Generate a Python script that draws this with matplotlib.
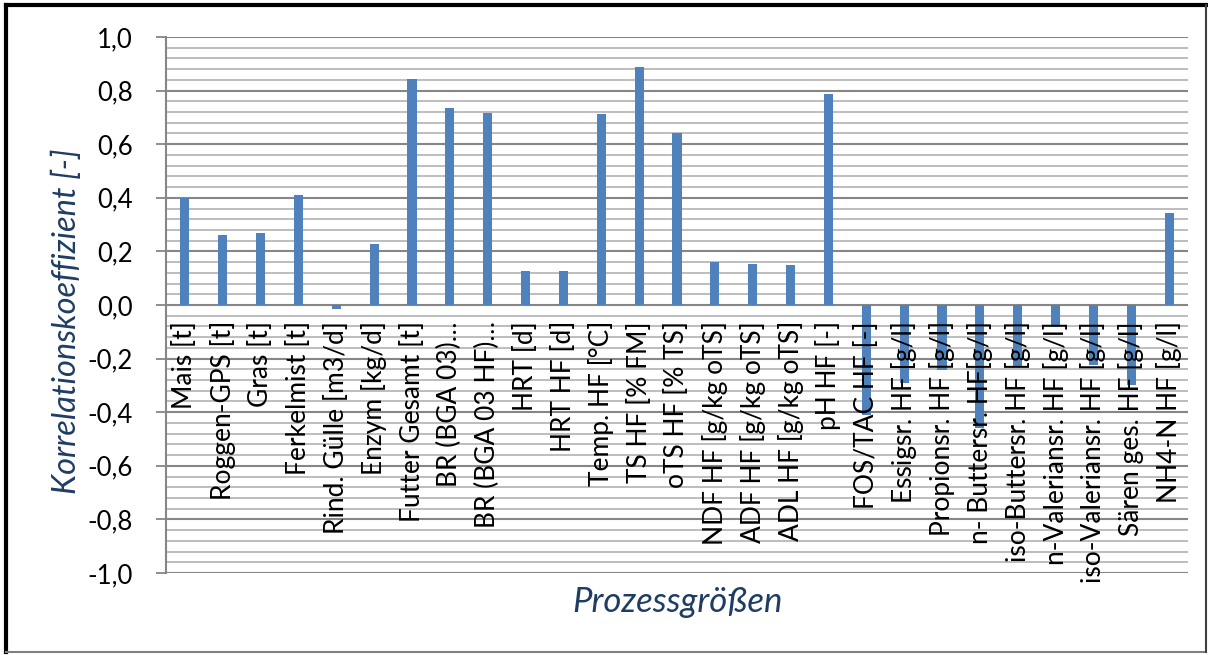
import numpy as np
import matplotlib.pyplot as plt
from matplotlib import transforms
from matplotlib.lines import Line2D

# Prozessgrößen und Korrelationskoeffizienten
categories = [
    'Mais [t]', 'Roggen-GPS [t]', 'Gras [t]', 'Ferkelmist [t]',
    'Rind. Gülle [m3/d]', 'Enzym [kg/d]', 'Futter Gesamt [t]',
    'BR (BGA 03)…', 'BR (BGA 03 HF)…', 'HRT [d]', 'HRT HF [d]',
    'Temp. HF [°C]', 'TS HF [% FM]', 'oTS HF [% TS]',
    'NDF HF [g/kg oTS]', 'ADF HF [g/kg oTS]', 'ADL HF [g/kg oTS]',
    'pH HF [-]', 'FOS/TAC HF [-]', 'Essigsr. HF [g/l]',
    'Propionsr. HF [g/l]', 'n- Buttersr. HF[g/l]', 'iso-Buttersr. HF [g/l]',
    'n-Valeriansr. HF [g/l]', 'iso-Valeriansr. HF [g/l]',
    'Sären ges. HF [g/l]', 'NH4-N HF [g/l]',
]
values = [
    0.40, 0.26, 0.267, 0.41, -0.015, 0.226, 0.843,
    0.736, 0.715, 0.126, 0.126, 0.714, 0.887, 0.64,
    0.162, 0.153, 0.150, 0.786, -0.41, -0.29,
    -0.243, -0.46, -0.23, -0.082, -0.224, -0.30, 0.343,
]
yticks = [-1.0, -0.8, -0.6, -0.4, -0.2, 0.0, 0.2, 0.4, 0.6, 0.8, 1.0]
ytick_labels = ['-1,0', '-0,8', '-0,6', '-0,4', '-0,2', '0,0',
                '0,2', '0,4', '0,6', '0,8', '1,0']

plt.rcParams['font.family'] = ['Lato', 'DejaVu Sans']

fig = plt.figure(figsize=(12.08, 6.55), dpi=100)
ax = fig.add_axes([166 / 1208, 1 - 573 / 655, 1022 / 1208, 536 / 655])

x = np.arange(len(categories))
ax.bar(x, values, width=0.24, color='#4F81BD', zorder=3)

# gridlines: minor every 0.04, major every 0.2
ax.set_ylim(-1.0, 1.0)
ax.set_xlim(-0.5, len(categories) - 0.5)
ax.set_yticks(yticks)
ax.set_yticklabels(ytick_labels, fontsize=18.5)
ax.set_yticks(np.arange(-1.0, 1.0001, 0.04), minor=True)
ax.grid(which='minor', axis='y', color='#B8B8B8', linewidth=1.3, zorder=1)
ax.grid(which='major', axis='y', color='#868686', linewidth=1.5, zorder=2)
ax.tick_params(axis='y', which='major', length=7, width=1.3, color='#868686', pad=17)
ax.tick_params(axis='y', which='minor', length=0)
ax.tick_params(axis='x', bottom=False, labelbottom=False)
for s in ['top', 'right', 'bottom']:
    ax.spines[s].set_visible(False)
ax.spines['left'].set_color('#868686')
ax.spines['left'].set_linewidth(1.5)

# category labels below the zero line
off = transforms.offset_copy(ax.transData, fig=fig, x=0, y=-16, units='dots')
for i, lab in enumerate(categories):
    ax.text(i, 0, lab, rotation=90, ha='center', va='top', fontsize=19,
            transform=off, zorder=5)

ax.set_ylabel('Korrelationskoeffizient [-]', fontsize=23.5, style='italic', color='#1F3D63')
ax.yaxis.set_label_coords(-0.082, 0.47)
ax.set_xlabel('Prozessgrößen', fontsize=25, style='italic', color='#1F3D63')
ax.xaxis.set_label_coords(0.5, -0.025)

# chart border
fig.add_artist(Line2D([0.005, 0.005], [0.004, 0.993], color='black', linewidth=3, transform=fig.transFigure))
fig.add_artist(Line2D([0.005, 0.998], [0.993, 0.993], color='black', linewidth=3, transform=fig.transFigure))
fig.add_artist(Line2D([0.005, 0.998], [0.004, 0.004], color='#7F7F7F', linewidth=1.5, transform=fig.transFigure))
fig.add_artist(Line2D([0.998, 0.998], [0.004, 0.993], color='#404040', linewidth=1.5, transform=fig.transFigure))

fig.savefig('out.png', dpi=100)
